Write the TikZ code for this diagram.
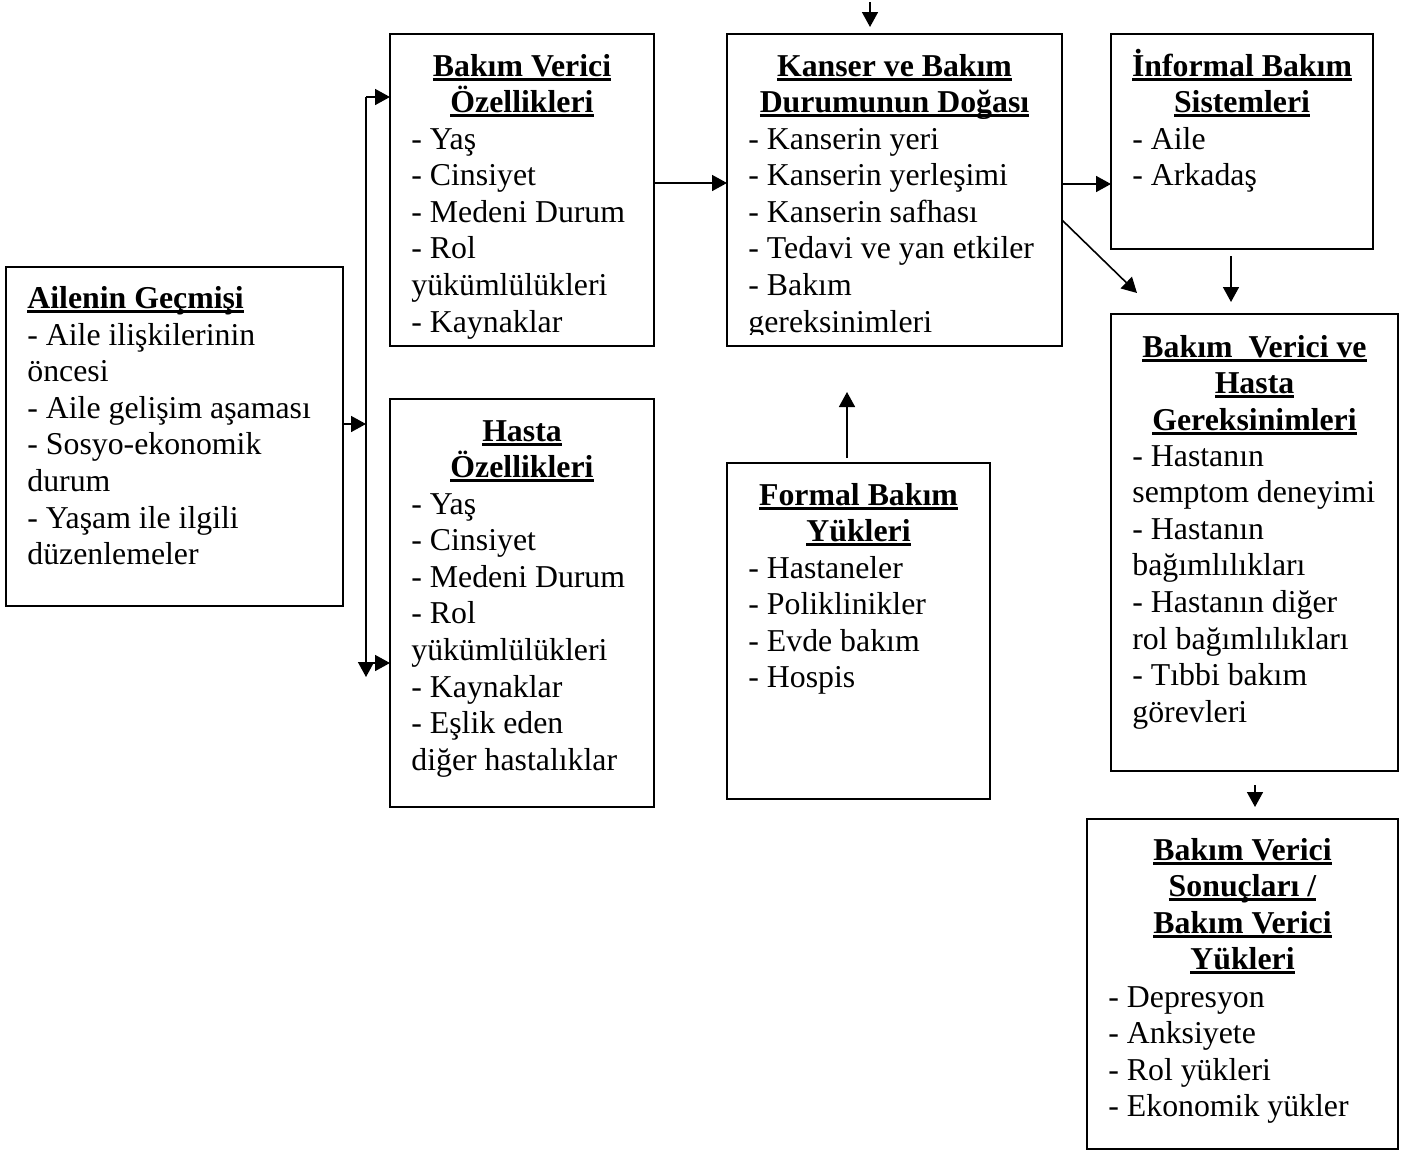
\documentclass[tikz,border=0pt]{standalone}
\usepackage{fontspec}
\setmainfont{Liberation Serif}
\usetikzlibrary{arrows.meta,calc}
\newsavebox\ulbox
\newcommand\uln[1]{\sbox\ulbox{#1}\rlap{\rule[-2.25pt]{\wd\ulbox}{1.5pt}}\usebox\ulbox}
\newcommand\tstrut{\rule{0pt}{12.81pt}}
\begin{document}
\begin{tikzpicture}[x=0.5pt,y=-0.5pt,
  font=\fontsize{15.9pt}{18.3pt}\selectfont,
  box/.style={draw, line width=1pt, inner sep=0pt, outer sep=0pt},
  ttl/.style={align=center, inner sep=0pt, anchor=north, font=\fontsize{15.9pt}{18.3pt}\selectfont\bfseries},
  ttll/.style={align=left, inner sep=0pt, anchor=north west, font=\fontsize{15.9pt}{18.3pt}\selectfont\bfseries},
  itm/.style={align=left, inner sep=0pt, anchor=north west},
  arr/.style={line width=0.8pt, -{Triangle[length=7.5pt,width=8pt]}}]
\useasboundingbox (0,0) rectangle (1415,1151);

% boxes
\node[box, minimum width=168.5pt, minimum height=169.5pt] (ail) at (174.5,436.5) {};
\node[box, minimum width=132pt, minimum height=156pt] (bvo) at (522,190) {};
\node[box, minimum width=132pt, minimum height=204pt] (has) at (522,603) {};
\node[box, minimum width=167.5pt, minimum height=156pt] (kan) at (894.5,190) {};
\node[box, minimum width=131.5pt, minimum height=168pt] (frm) at (858.5,631) {};
\node[box, minimum width=131pt, minimum height=107.5pt] (inf) at (1242,141.5) {};
\node[box, minimum width=143.5pt, minimum height=228.5pt] (ger) at (1254.5,542.5) {};
\node[box, minimum width=155.5pt, minimum height=165pt] (son) at (1242.5,984) {};

% texts
\node[ttll] (ailT) at (27,282) {\tstrut\uln{Ailenin Geçmişi}};
\node[itm] (ailI) at (27,319) {\strut- Aile ilişkilerinin\\öncesi\\- Aile gelişim aşaması\\- Sosyo-ekonomik\\durum\\- Yaşam ile ilgili\\düzenlemeler};

\node[ttl] (bvoT) at (522,50) {\tstrut\uln{Bakım Verici}\\\uln{Özellikleri}};
\node[itm] (bvoI) at (411,123) {\strut- Yaş\\- Cinsiyet\\- Medeni Durum\\- Rol\\yükümlülükleri\\- Kaynaklar};

\node[ttl] (hasT) at (522,415) {\tstrut\uln{Hasta}\\\uln{Özellikleri}};
\node[itm] (hasI) at (411,488) {\strut- Yaş\\- Cinsiyet\\- Medeni Durum\\- Rol\\yükümlülükleri\\- Kaynaklar\\- Eşlik eden\\diğer hastalıklar};

\node[ttl] (kanT) at (894.5,50) {\tstrut\uln{Kanser ve Bakım}\\\uln{Durumunun Doğası}};
\begin{scope}
\clip (727,34) rectangle (1062,334);
\node[itm] (kanI) at (748,123) {\strut- Kanserin yeri\\- Kanserin yerleşimi\\- Kanserin safhası\\- Tedavi ve yan etkiler\\- Bakım\\gereksinimleri};
\end{scope}

\node[ttl] (frmT) at (858.5,479) {\tstrut\uln{Formal Bakım}\\\uln{Yükleri}};
\node[itm] (frmI) at (748,552) {\strut- Hastaneler\\- Poliklinikler\\- Evde bakım\\- Hospis};

\node[ttl] (infT) at (1242,50) {\tstrut\smash{\uln{İnformal Bakım}}\\\uln{Sistemleri}};
\node[itm] (infI) at (1132,123) {\strut- Aile\\- Arkadaş};

\node[ttl] (gerT) at (1254.5,331) {\tstrut\uln{Bakım\ \ Verici ve}\\\uln{Hasta}\\\uln{Gereksinimleri}};
\node[itm] (gerI) at (1132,440) {\strut- Hastanın\\semptom deneyimi\\- Hastanın\\bağımlılıkları\\- Hastanın diğer\\rol bağımlılıkları\\- Tıbbi bakım\\görevleri};

\node[ttl] (sonT) at (1242.5,834) {\tstrut\uln{Bakım Verici}\\\uln{Sonuçları /}\\\uln{Bakım Verici}\\\uln{Yükleri}};
\node[itm] (sonI) at (1108,981) {\strut- Depresyon\\- Anksiyete\\- Rol yükleri\\- Ekonomik yükler};

% connectors
\coordinate (vt) at (366,97);
\coordinate (vb) at (366,677);
\coordinate (j1) at (366,424);
\coordinate (j2) at (366,663);
\draw[arr] (ail.east |- j1) -- (j1);
\draw[arr] (vt) -- (vb);
\draw[arr] (vt) -- (vt -| bvo.west);
\draw[arr] (j2) -- (j2 -| has.west);

\draw[arr] ($(bvo.east)+(0,-7)$) -- ($(kan.west)+(0,-7)$);
\coordinate (k1) at ($(kan.east)+(0,-6)$);
\draw[arr] (k1) -- (k1 -| inf.west);
\coordinate (d1) at (1137,293);
\draw[arr] ($(kan.east)+(0,30)$) -- (d1);
\draw[arr] ($(inf.south)+(-11,7)$) -- ($(ger.north)+(-23.5,-12)$);
\coordinate (top) at (870,2);
\draw[arr] (top) -- ($(kan.north)+(-24.5,-7)$);
\draw[arr] ($(frm.north)+(-11.5,-5)$) -- ($(kan.south)+(-47.5,46)$);
\draw[arr] ($(ger.south)+(0.5,14)$) -- ($(son.north)+(12.5,-12)$);
\end{tikzpicture}
\end{document}
